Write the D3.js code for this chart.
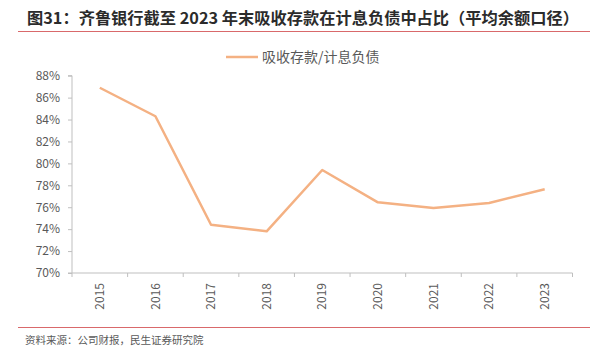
<!DOCTYPE html>
<html><head><meta charset="utf-8">
<script src="https://cdn.jsdelivr.net/npm/d3@7"></script>
<style>body{margin:0;background:#fff}svg{display:block}</style>
</head><body>
<svg id="c" width="603" height="354"></svg>
<script>
const categories = ["2015","2016","2017","2018","2019","2020","2021","2022","2023"];
const values = [86.9, 84.3, 74.4, 73.8, 79.4, 76.45, 75.93, 76.39, 77.64];
const yTicks = [70,72,74,76,78,80,82,84,86,88];
const seriesName = "吸收存款/计息负债";
const title = "图31：齐鲁银行截至 2023 年末吸收存款在计息负债中占比（平均余额口径）";
const source = "资料来源：公司财报，民生证券研究院";

const svg = d3.select("#c");
const font = "'Noto Sans CJK SC','Noto Sans',sans-serif";
const L = 72, R = 572.5, T = 75.7, B = 273;

svg.append("text").attr("x", 27).attr("y", 24).attr("font-family", font)
  .attr("font-size", 16).attr("font-weight", "bold").attr("fill", "#2b2b2b")
  .attr("textLength", 552).attr("lengthAdjust", "spacingAndGlyphs").text(title);
svg.append("line").attr("x1", 18).attr("x2", 590).attr("y1", 31.5).attr("y2", 31.5)
  .attr("stroke", "#d9696b").attr("stroke-width", 1);
svg.append("line").attr("x1", 18).attr("x2", 590).attr("y1", 327.5).attr("y2", 327.5)
  .attr("stroke", "#d9696b").attr("stroke-width", 1);
svg.append("text").attr("x", 25).attr("y", 344).attr("font-family", font)
  .attr("font-size", 10.5).attr("fill", "#595959").text(source);

const x = d3.scaleBand().domain(categories).range([L, R]);
const y = d3.scaleLinear().domain([70, 88]).range([B, T]);

// y axis
const ya = svg.append("g").attr("transform", `translate(${L},0)`)
  .call(d3.axisLeft(y).tickValues(yTicks).tickSize(4).tickPadding(8).tickFormat(d => d + "%"));
ya.select(".domain").attr("stroke", "#bfbfbf").attr("d", `M-4,${T}H0V${B}H-4`);
ya.selectAll(".tick line").attr("stroke", "#bfbfbf");
ya.selectAll(".tick text").attr("font-family", font).attr("font-size", 12).attr("fill", "#595959");

// x axis
const xa = svg.append("g").attr("transform", `translate(0,${B})`)
  .call(d3.axisBottom(x).tickSize(0).tickPadding(0));
xa.select(".domain").attr("stroke", "#bfbfbf").attr("d", `M${L},0H${R}`);
xa.selectAll(".tick text").attr("font-family", font).attr("font-size", 12).attr("fill", "#595959")
  .attr("transform", "rotate(-90)").attr("text-anchor", "end").attr("dy", "0.35em")
  .attr("x", -10).attr("y", 0);
const bounds = categories.map(c => x(c)).concat([R]);
xa.selectAll(".bnd").data(bounds).enter().append("line")
  .attr("x1", d => d).attr("x2", d => d).attr("y1", 0).attr("y2", 4).attr("stroke", "#bfbfbf");

// line
const line = d3.line().x((d, i) => x(categories[i]) + x.bandwidth() / 2).y(d => y(d));
svg.append("path").datum(values).attr("d", line).attr("fill", "none")
  .attr("stroke", "#f4b183").attr("stroke-width", 2.5).attr("stroke-linejoin", "round");

// legend
svg.append("line").attr("x1", 226).attr("x2", 258).attr("y1", 57).attr("y2", 57)
  .attr("stroke", "#f4b183").attr("stroke-width", 2.5);
svg.append("text").attr("x", 262).attr("y", 62).attr("font-family", font)
  .attr("font-size", 14).attr("fill", "#595959").text(seriesName);
</script>
</body></html>
